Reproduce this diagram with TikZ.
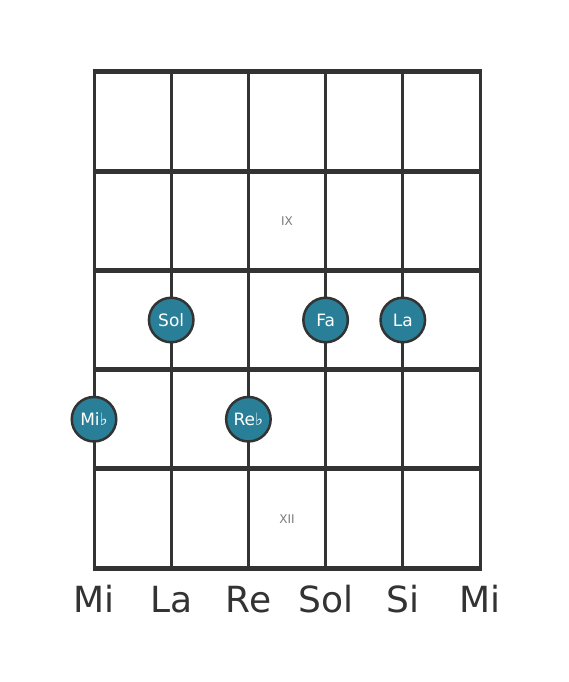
\documentclass[tikz,border=0pt]{standalone}
\usepackage{fontspec}
\setmainfont{DejaVu Sans}
\usetikzlibrary{positioning}
\definecolor{fretgray}{HTML}{333333}
\definecolor{noteteal}{HTML}{2A7F98}
\definecolor{romangray}{HTML}{7A7A7A}

\begin{document}
\begin{tikzpicture}[x=1pt,y=-1pt]
    \tikzstyle{every node}=[font=\fontsize{17}{17}\selectfont]
    \tikzstyle{string}=[draw=fretgray, line width=3pt]
    \tikzstyle{fret}=[draw=fretgray, line width=5pt]
    \tikzstyle{note}=[circle, draw=fretgray, line width=2.5pt, fill=noteteal, text=white, minimum size=44.5pt, inner sep=0pt]
    \tikzstyle{tuning}=[anchor=base, text=fretgray, font=\fontsize{36}{36}\selectfont]
    \tikzstyle{position}=[text=romangray, font=\fontsize{12}{12}\selectfont]
    \useasboundingbox (0,0) rectangle (568,682);
    % strings and frets
    \foreach \i in {0,...,5} \draw[string] (94+77.2*\i,72) -- (94+77.2*\i,568); %
    \foreach \j in {0,...,5} \draw[fret] (92.5,72+99.2*\j) -- (481.5,72+99.2*\j); %
    % fret markers
    \node[position] (ix) at (287,221) {IX}; %
    \node[position] (xii) at (287,519) {XII}; %
    % notes
    \node[note] (sol) at (171.2,320) {Sol}; %
    \node[note] (fa) at (325.6,320) {Fa}; %
    \node[note] (la) at (402.8,320) {La}; %
    \node[note] (mib) at (94,419.2) {Mi♭}; %
    \node[note] (reb) at (248.4,419.2) {Re♭}; %
    % open strings
    \foreach \name [count=\i from 0] in {Mi,La,Re,Sol,Si,Mi}
      \node[tuning] (open\i) at (94+77.2*\i,612) {\name}; %
\end{tikzpicture}
\end{document}
